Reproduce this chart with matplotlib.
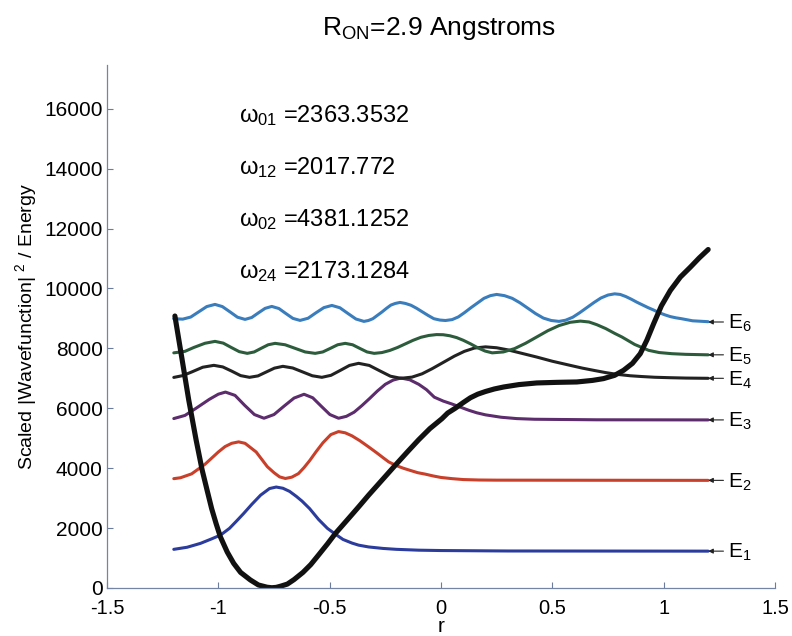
import matplotlib.pyplot as plt

plt.rcParams['font.family'] = 'Liberation Sans'
plt.rcParams['mathtext.fontset'] = 'custom'
plt.rcParams['mathtext.rm'] = 'Liberation Sans'
plt.rcParams['mathtext.it'] = 'Liberation Sans'
plt.rcParams['mathtext.bf'] = 'Liberation Sans:bold'

#=======Potential energy curve
r_pot = [-1.195, -1.163, -1.133, -1.100, -1.073, -1.050, -1.030, -1.010, -0.991,
         -0.960, -0.931, -0.900, -0.856, -0.820, -0.781, -0.760, -0.740, -0.720,
         -0.690, -0.660, -0.620, -0.585, -0.550, -0.510, -0.474, -0.440, -0.400,
         -0.365, -0.325, -0.265, -0.205, -0.150, -0.100, -0.050, 0.004, 0.030,
         0.064, 0.100, 0.132, 0.165, 0.200, 0.240, 0.282, 0.350, 0.430, 0.520,
         0.610, 0.680, 0.730, 0.780, 0.820, 0.860, 0.895, 0.925, 0.955, 0.990,
         1.030, 1.075, 1.120, 1.160, 1.200]
v_pot = [9080, 7640, 6280, 4950, 3950, 3250, 2650, 2150, 1711,
         1200, 822, 520, 267, 100, 25, 8, 20, 60,
         130, 280, 520, 780, 1100, 1470, 1822, 2110, 2450,
         2750, 3100, 3600, 4100, 4550, 4950, 5320, 5650, 5840,
         6000, 6190, 6350, 6470, 6560, 6645, 6711, 6790, 6845, 6865,
         6878, 6930, 6990, 7100, 7267, 7500, 7822, 8280, 8822, 9420,
         9933, 10380, 10711, 11020, 11300]

#=======Scaled |wavefunction|^2, shifted up by the level energy
r1 = [-1.200, -1.140, -1.080, -1.030, -0.990, -0.950, -0.920, -0.886, -0.850,
      -0.810, -0.770, -0.740, -0.710, -0.680, -0.650, -0.624, -0.590, -0.550,
      -0.510, -0.475, -0.440, -0.400, -0.370, -0.325, -0.260, -0.200, -0.100,
      0.000, 0.300, 1.200]
e1 = [1290, 1360, 1490, 1640, 1767, 1990, 2220, 2489, 2790,
      3100, 3320, 3370, 3330, 3225, 3060, 2900, 2650, 2290,
      1990, 1800, 1620, 1500, 1430, 1370, 1320, 1290, 1262,
      1250, 1235, 1230]

r2 = [-1.200, -1.170, -1.120, -1.060, -1.000, -0.970, -0.940, -0.909, -0.880,
      -0.830, -0.780, -0.750, -0.725, -0.699, -0.670, -0.640, -0.615, -0.590,
      -0.560, -0.530, -0.495, -0.460, -0.430, -0.400, -0.365, -0.325, -0.290,
      -0.260, -0.235, -0.205, -0.170, -0.140, -0.105, -0.070, -0.035, 0.000,
      0.050, 0.100, 0.170, 0.250, 1.200]
e2 = [3650, 3680, 3810, 4130, 4540, 4720, 4830, 4878, 4830,
      4540, 4050, 3850, 3710, 3656, 3700, 3820, 4020, 4250,
      4560, 4850, 5120, 5222, 5180, 5080, 4920, 4710, 4520,
      4350, 4210, 4100, 4000, 3930, 3850, 3800, 3740, 3690,
      3650, 3620, 3605, 3600, 3593]

r3 = [-1.200, -1.150, -1.100, -1.040, -1.000, -0.968, -0.925, -0.882, -0.838,
      -0.795, -0.750, -0.705, -0.660, -0.615, -0.576, -0.538, -0.499, -0.460,
      -0.425, -0.390, -0.355, -0.320, -0.285, -0.250, -0.215, -0.180, -0.140,
      -0.100, -0.065, -0.030, 0.010, 0.050, 0.090, 0.125, 0.160, 0.200, 0.270,
      0.340, 0.420, 0.700, 1.200]
e3 = [5656, 5760, 6000, 6300, 6470, 6540, 6430, 6100, 5790,
      5667, 5790, 6070, 6340, 6467, 6350, 6070, 5790, 5667,
      5730, 5870, 6090, 6330, 6580, 6800, 6940, 7010, 6950,
      6800, 6620, 6370, 6240, 6140, 6030, 5933, 5850, 5780, 5700,
      5655, 5633, 5615, 5611]

r4 = [-1.200, -1.160, -1.120, -1.070, -1.020, -0.980, -0.940, -0.900, -0.860,
      -0.822, -0.785, -0.748, -0.710, -0.666, -0.622, -0.578, -0.535, -0.494,
      -0.452, -0.411, -0.370, -0.322, -0.275, -0.227, -0.180, -0.130, -0.085,
      -0.040, 0.010, 0.060, 0.105, 0.150, 0.200, 0.250, 0.300, 0.365, 0.430,
      0.500, 0.580, 0.635, 0.690, 0.740, 0.790, 0.850, 0.900, 0.960, 1.030,
      1.100, 1.200]
e4 = [7030, 7090, 7210, 7370, 7433, 7380, 7240, 7090, 7033,
      7080, 7210, 7340, 7400, 7345, 7215, 7085, 7033, 7100,
      7265, 7430, 7500, 7430, 7250, 7070, 7000, 7040, 7150,
      7320, 7530, 7740, 7900, 8010, 8050, 8020, 7950, 7830, 7710,
      7570, 7433, 7340, 7260, 7190, 7133, 7085, 7060, 7035, 7020,
      7008, 7000]

r5 = [-1.200, -1.150, -1.110, -1.060, -1.015, -0.978, -0.942, -0.906, -0.870,
      -0.839, -0.808, -0.776, -0.745, -0.700, -0.655, -0.610, -0.565, -0.531,
      -0.497, -0.464, -0.430, -0.397, -0.365, -0.332, -0.300, -0.265, -0.230,
      -0.195, -0.160, -0.125, -0.090, -0.055, -0.020, 0.010, 0.040, 0.070,
      0.100, 0.133, 0.165, 0.198, 0.230, 0.280, 0.330, 0.380, 0.430, 0.480,
      0.530, 0.580, 0.626, 0.665, 0.700, 0.740, 0.780, 0.813, 0.870, 0.933,
      0.980, 1.037, 1.100, 1.200]
e5 = [7850, 7900, 8030, 8170, 8233, 8175, 8030, 7890, 7833,
      7880, 8000, 8120, 8167, 8120, 8000, 7880, 7833, 7880,
      8000, 8120, 8167, 8120, 8000, 7880, 7833, 7860, 7930,
      8030, 8150, 8270, 8370, 8430, 8460, 8455, 8420, 8360,
      8270, 8150, 8020, 7910, 7850, 7880, 7990, 8170, 8380, 8590,
      8760, 8870, 8910, 8880, 8790, 8660, 8500, 8378, 8130, 7933,
      7860, 7822, 7800, 7784]

r6 = [-1.200, -1.160, -1.124, -1.088, -1.052, -1.015, -0.982, -0.948, -0.914,
      -0.880, -0.850, -0.820, -0.790, -0.760, -0.728, -0.697, -0.665, -0.633,
      -0.597, -0.562, -0.526, -0.490, -0.454, -0.418, -0.382, -0.346, -0.326,
      -0.306, -0.286, -0.265, -0.245, -0.225, -0.205, -0.184, -0.160, -0.135,
      -0.110, -0.083, -0.058, -0.032, -0.005, 0.020, 0.050, 0.078, 0.105,
      0.135, 0.165, 0.193, 0.222, 0.250, 0.285, 0.320, 0.355, 0.390, 0.425,
      0.460, 0.495, 0.530, 0.560, 0.592, 0.623, 0.655, 0.687, 0.718, 0.750,
      0.780, 0.805, 0.830, 0.855, 0.880, 0.905, 0.930, 0.955, 0.977, 1.005,
      1.030, 1.055, 1.080, 1.130, 1.200]
e6 = [8990, 8975, 9045, 9220, 9395, 9467, 9395, 9220, 9040,
      8967, 9030, 9185, 9335, 9400, 9330, 9165, 9000, 8933,
      9005, 9185, 9360, 9433, 9355, 9165, 8980, 8900, 8930,
      8990, 9100, 9215, 9335, 9445, 9500, 9533, 9500, 9440,
      9340, 9215, 9100, 8990, 8945, 8930, 8960, 9050, 9190,
      9360, 9520, 9670, 9760, 9800, 9760, 9670, 9520, 9340, 9160,
      9010, 8930, 8900, 8940, 9040, 9190, 9360, 9530, 9680, 9780,
      9820, 9800, 9730, 9640, 9540, 9450, 9360, 9280, 9200, 9120,
      9060, 9020, 8990, 8920, 8890]

levels = [1230, 3593, 5611, 7000, 7784, 8880]
level_names = ['E$_1$', 'E$_2$', 'E$_3$', 'E$_4$', 'E$_5$', 'E$_6$']
colors = ['#2b3c9c', '#c8402a', '#5c2c6c', '#222222', '#2c5c3c', '#3a7dbd']

omega_text = [r'$\omega_{01}$ =2363.3532', r'$\omega_{12}$ =2017.772',
              r'$\omega_{02}$ =4381.1252', r'$\omega_{24}$ =2173.1284']
omega_y = [15570, 13820, 12090, 10350]

#==============Plotting data
fig = plt.figure(figsize=(7.92, 6.36), dpi=100)
ax = fig.add_axes([0.1351, 0.0755, 0.8434, 0.8223])

wave_r = [r1, r2, r3, r4, r5, r6]
wave_e = [e1, e2, e3, e4, e5, e6]
for r, e, c in zip(wave_r, wave_e, colors):
    ax.plot(r, e, color=c, lw=2.2, solid_capstyle='round', solid_joinstyle='round')

ax.plot(r_pot, v_pot, color='#111111', lw=3.7, solid_capstyle='round',
        solid_joinstyle='round')

# level markers: small arrow pointing back at the end of each curve
for lev, name in zip(levels, level_names):
    ax.annotate('', xy=(1.2, lev), xytext=(11, 0), textcoords='offset points',
                arrowprops=dict(arrowstyle='-|>', lw=0.8, color='#222222',
                                mutation_scale=7, shrinkA=0, shrinkB=0))
    ax.annotate(name, xy=(1.2, lev), xytext=(14.5, -5), textcoords='offset points',
                ha='left', va='baseline', fontsize=15)

for txt, y in zip(omega_text, omega_y):
    ax.text(-0.905, y, txt, ha='left', va='baseline', fontsize=17)

fig.text(0.554, 0.945, r'R$_{\mathrm{ON}}$=2.9 Angstroms', ha='center',
         va='baseline', fontsize=19)

ax.set_xlim(-1.5, 1.5)
ax.set_ylim(0, 17460)
ax.set_xticks([-1.5, -1, -0.5, 0, 0.5, 1, 1.5])
ax.set_xticklabels(['-1.5', '-1', '-0.5', '0', '0.5', '1', '1.5'])
ax.set_yticks(range(0, 16001, 2000))
ax.set_yticklabels([str(v) for v in range(0, 16001, 2000)])
ax.tick_params(direction='in', length=4, labelsize=15, color='#6c7c9c')
ax.tick_params(axis='x', pad=8, labelsize=14.5)
ax.tick_params(axis='y', pad=3)

ax.set_xlabel('r', fontsize=15, labelpad=-1)
ax.set_ylabel(r'Scaled |Wavefunction| $^{2}$ / Energy', fontsize=14, labelpad=4)

for side in ['top', 'right']:
    ax.spines[side].set_visible(False)
for side in ['left', 'bottom']:
    ax.spines[side].set_color('#7484a4')
    ax.spines[side].set_linewidth(0.9)

plt.savefig('out.png', dpi=100)
